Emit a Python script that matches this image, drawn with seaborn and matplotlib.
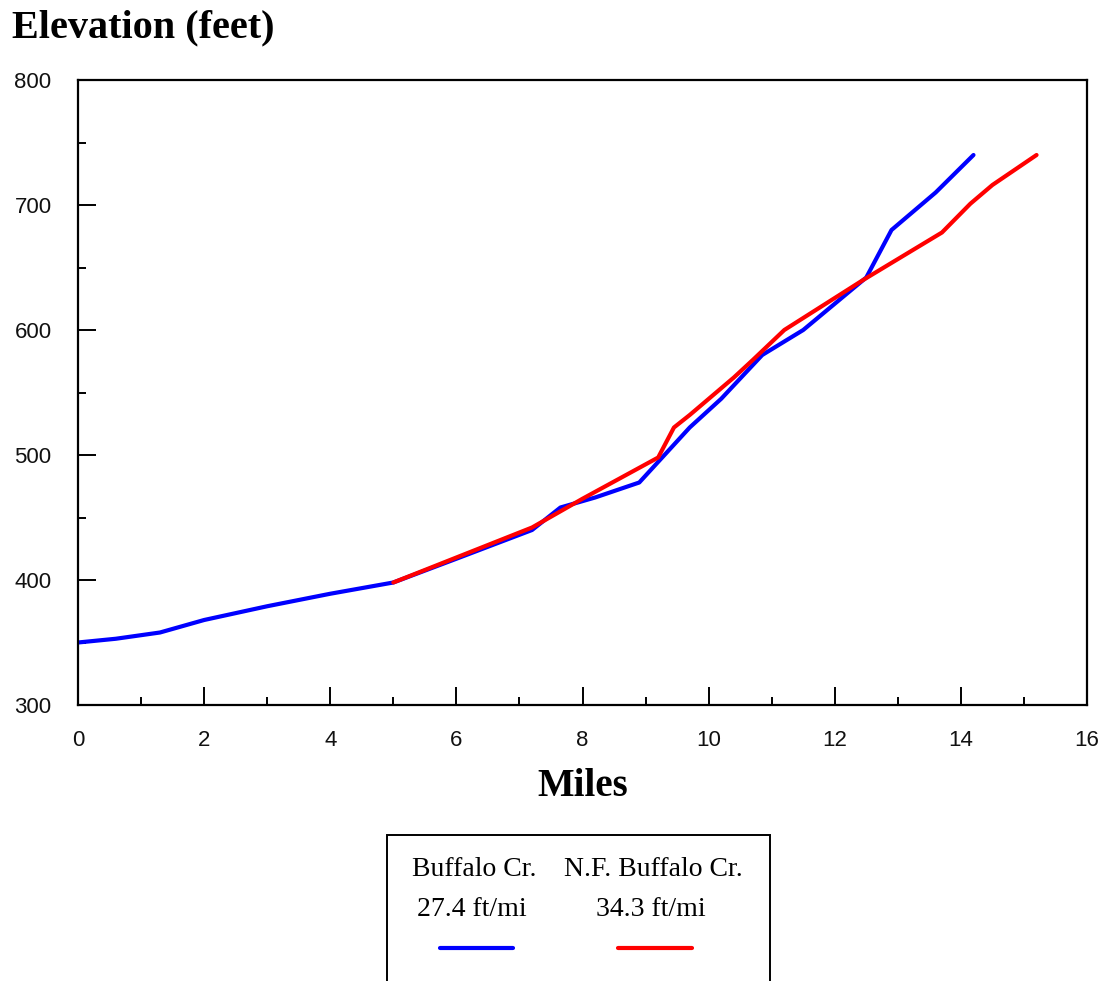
import matplotlib.pyplot as plt
import seaborn as sns
import pandas as pd
from matplotlib.lines import Line2D
from matplotlib.patches import Rectangle

# stream profiles (miles, feet)
buffalo_miles = [0, 0.6, 1.3, 2, 3, 4, 5, 6, 7.2, 7.65, 8.2, 8.9, 9.3, 9.7,
                 10.2, 10.85, 11.5, 12.5, 12.9, 13.6, 14.2]
buffalo_elev = [350, 353, 358, 368, 379, 389, 398, 417, 440, 458, 466, 478,
                500, 522, 545, 580, 600, 642, 680, 710, 740]

nf_miles = [5, 6, 7.2, 8, 9.2, 9.45, 9.7, 10.4, 10.7, 11.2, 12.45, 13.7,
            14.15, 14.5, 15.2]
nf_elev = [398, 418, 442, 465, 498, 522, 532, 562, 576, 600, 640, 678,
           701, 716, 740]

series_names = ["Buffalo Cr.", "N.F. Buffalo Cr."]
slopes = ["27.4 ft/mi", "34.3 ft/mi"]
colors = ["#0000ff", "#ff0000"]

df = pd.concat([
    pd.DataFrame({"Miles": buffalo_miles, "Elevation": buffalo_elev, "stream": series_names[0]}),
    pd.DataFrame({"Miles": nf_miles, "Elevation": nf_elev, "stream": series_names[1]}),
])

sns.set_style("white")
plt.rcParams["font.family"] = ["Liberation Serif", "DejaVu Serif"]
plt.rcParams["text.color"] = "black"

fig = plt.figure(figsize=(11.06, 9.81), dpi=100)
ax = fig.add_axes([78 / 1106, 1 - 705 / 981, (1087 - 78) / 1106, (705 - 80) / 981])

sns.lineplot(data=df, x="Miles", y="Elevation", hue="stream",
             palette=dict(zip(series_names, colors)), linewidth=3,
             legend=False, ax=ax, sort=False)

ax.set_xlim(0, 16)
ax.set_ylim(300, 800)
ax.set_xticks(range(0, 17, 2))
ax.set_xticks(range(1, 16, 2), minor=True)
ax.set_yticks(range(300, 801, 100))
ax.set_yticks(range(350, 800, 100), minor=True)

for s in ax.spines.values():
    s.set_color("black")
    s.set_linewidth(1.6)

ax.tick_params(which="both", bottom=True, left=True, top=False, right=False)
ax.tick_params(which="major", direction="in", length=13, width=1.4, color="black",
               pad=18, labelsize=16, labelcolor="#111111")
ax.tick_params(which="minor", direction="in", length=6, width=1.4, color="black")
ax.tick_params(axis="y", pad=19)
for lab in ax.get_xticklabels() + ax.get_yticklabels():
    lab.set_family(["Liberation Sans", "DejaVu Sans"])

ax.set_xlabel("Miles", fontsize=28, fontweight="bold", labelpad=12, color="black")
ax.set_ylabel("")
fig.text(12 / 1106, 1 - 28 / 981, "Elevation (feet)", fontsize=29,
         fontweight="bold", ha="left", va="center")

# legend box drawn beneath the chart
fig.add_artist(Rectangle((387 / 1106, -0.01), (770 - 387) / 1106, 0.01 + 1 - 835 / 981,
                         transform=fig.transFigure, fill=False, edgecolor="black",
                         linewidth=1.4))
centers = [474 / 1106, 653 / 1106]
line_spans = [(440, 513), (618, 692)]
for name, slope, color, cx, (x0, x1) in zip(series_names, slopes, colors, centers, line_spans):
    fig.text(cx, 1 - 870 / 981, name, fontsize=20, ha="center", va="center")
    fig.text(cx - 2 / 1106, 1 - 910 / 981, slope, fontsize=20, ha="center", va="center")
    fig.add_artist(Line2D([x0 / 1106, x1 / 1106], [1 - 948 / 981] * 2,
                          transform=fig.transFigure, color=color, linewidth=3))

fig.savefig("out.png", dpi=100)
